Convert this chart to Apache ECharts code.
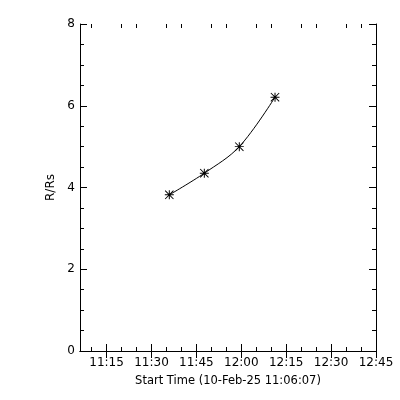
<!DOCTYPE html>
<html><head><meta charset="utf-8">
<script src="https://cdn.jsdelivr.net/npm/echarts@6/dist/echarts.min.js"></script>
<style>html,body{margin:0;padding:0;background:#fff}#c{width:400px;height:400px}</style>
</head><body><div id="c"></div>
<script>
// ---- data ----
const times = ['11:35:57', '11:47:39', '11:59:20', '12:11:16'];
const heights = [3.82, 4.35, 5.00, 6.21];
const xStart = '11:06:07';
const xEnd = '12:45:00';
const xMajorLabels = ['11:15', '11:30', '11:45', '12:00', '12:15', '12:30', '12:45'];
const xMinorTicks = ['11:10', '11:20', '11:25', '11:35', '11:40', '11:50', '11:55', '12:05', '12:10', '12:20', '12:25', '12:35', '12:40'];
const yMin = 0, yMax = 8, yStep = 2;
const xTitle = 'Start Time (10-Feb-25 11:06:07)';
const yTitle = 'R/Rs';

// ---- helpers ----
function toMin(s) { const p = s.split(':').map(Number); return (p[0] - 11) * 60 + p[1] + (p[2] || 0) / 60; }
function fmt(m) {
  const t = Math.round(m) + 660; const h = Math.floor(t / 60), mm = t % 60;
  return h + ':' + String(mm).padStart(2, '0');
}
const xMin = toMin(xStart), xMax = toMin(xEnd);
const majors = xMajorLabels.map(toMin);
const minors = xMinorTicks.map(toMin);
const pts = times.map((t, i) => [toMin(t), heights[i]]);

const FONT = 'DejaVu Sans';
const black = '#000';
const asterisk = 'path://M4.45 0L5.55 0L5.55 10L4.45 10Z M0 4.45L10 4.45L10 5.55L0 5.55Z M0 0.75L0.75 0L10 9.25L9.25 10Z M9.25 0L10 0.75L0.75 10L0 9.25Z';

const rect = { left: 80, top: 24, width: 296, height: 327, show: false };
function xAx(grid, pos, vals, len, withLabel) {
  const a = {
    gridIndex: grid, type: 'value', position: pos, min: xMin, max: xMax,
    axisLine: { show: grid === 0, lineStyle: { color: black, width: 1 } },
    axisTick: { show: true, inside: true, length: len, customValues: vals, lineStyle: { color: black, width: 1 } },
    axisLabel: { show: false },
    splitLine: { show: false }
  };
  if (withLabel) {
    a.axisLabel = { show: true, customValues: vals, formatter: v => fmt(v), color: black, fontFamily: FONT, fontSize: 12, margin: 6, showMinLabel: true, showMaxLabel: true, hideOverlap: false };
    a.name = xTitle; a.nameLocation = 'middle'; a.nameGap = 24;
    a.nameTextStyle = { color: black, fontFamily: FONT, fontSize: 11.5 };
  }
  return a;
}
function yAx(pos, withLabel) {
  const a = {
    gridIndex: 0, type: 'value', position: pos, min: yMin, max: yMax, interval: yStep,
    axisLine: { show: true, lineStyle: { color: black, width: 1 } },
    axisTick: { show: true, inside: true, length: 7, lineStyle: { color: black, width: 1 } },
    minorTick: { show: true, splitNumber: 4, length: 4, lineStyle: { color: black, width: 1 } },
    axisLabel: { show: withLabel, color: black, fontFamily: FONT, fontSize: 12, margin: 5 },
    splitLine: { show: false }, minorSplitLine: { show: false }
  };
  if (withLabel) {
    a.name = yTitle; a.nameLocation = 'middle'; a.nameGap = 19;
    a.nameTextStyle = { color: black, fontFamily: FONT, fontSize: 12 };
  }
  return a;
}

const chart = echarts.init(document.getElementById('c'), null, { renderer: 'canvas' });
chart.setOption({
  backgroundColor: '#fff',
  animation: false,
  grid: [Object.assign({}, rect), Object.assign({}, rect)],
  xAxis: [
    xAx(0, 'bottom', majors, 7, true),
    xAx(0, 'top', majors, 7, false),
    xAx(1, 'bottom', minors, 4, false),
    xAx(1, 'top', minors, 4, false)
  ],
  yAxis: [
    yAx('left', true),
    yAx('right', false),
    { gridIndex: 1, type: 'value', min: yMin, max: yMax, show: false }
  ],
  series: [{
    type: 'line', xAxisIndex: 0, yAxisIndex: 0,
    data: pts, smooth: 0.35,
    symbol: asterisk, symbolSize: 9,
    itemStyle: { color: black, borderWidth: 0 },
    lineStyle: { color: black, width: 1 }
  }]
});
</script>
</body></html>
